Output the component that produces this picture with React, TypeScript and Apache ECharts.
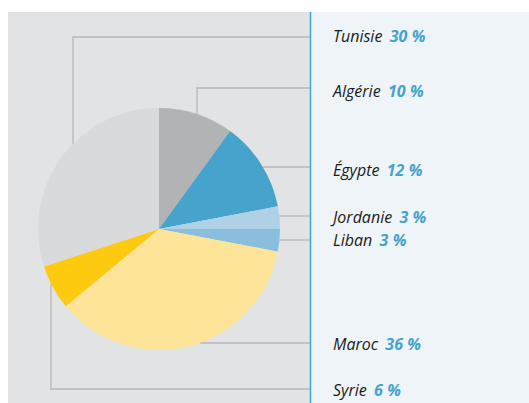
import React, { useEffect, useRef } from "react";
import * as echarts from "echarts";

const countries = ["Algérie", "Égypte", "Jordanie", "Liban", "Maroc", "Syrie", "Tunisie"];
const shares = [10, 12, 3, 3, 36, 6, 30];
const sliceColors = ["#b2b3b5", "#45a3cc", "#aed1e5", "#89bfdd", "#fee498", "#fdca0f", "#d9dadc"];

// label / leader-line layout (pixels)
const CX = 159;
const CY = 229;
const R = 121;
const DIVIDER_X = 310;
const LABEL_X = 333;
// lineY: horizontal leader level; elbowX: vertical drop (optional); textDy: text offset
const leaderLayout: { lineY: number; elbowX?: number; textDy: number }[] = [
  { lineY: 88, elbowX: 197, textDy: 3 },
  { lineY: 167, textDy: 3 },
  { lineY: 216, textDy: 1 },
  { lineY: 240, textDy: 0 },
  { lineY: 343, textDy: 1 },
  { lineY: 389, elbowX: 51, textDy: 1 },
  { lineY: 37, elbowX: 73, textDy: -1 },
];

function leaderPoints(i: number): number[][] {
  const l = leaderLayout[i];
  if (l.elbowX !== undefined) {
    const dx = l.elbowX - CX;
    const h = Math.sqrt(Math.max(R * R - dx * dx, 0));
    const ey = l.lineY < CY ? CY - h : CY + h;
    return [
      [l.elbowX, ey],
      [l.elbowX, l.lineY],
      [DIVIDER_X, l.lineY],
    ];
  }
  const dy = l.lineY - CY;
  const w = Math.sqrt(Math.max(R * R - dy * dy, 0));
  const ex = CX + w;
  return [
    [ex, l.lineY],
    [(ex + DIVIDER_X) / 2, l.lineY],
    [DIVIDER_X, l.lineY],
  ];
}

export default function App() {
  const ref = useRef<HTMLDivElement>(null);
  useEffect(() => {
    if (!ref.current) return;
    const chart = echarts.init(ref.current, null, { renderer: "svg" });
    chart.setOption({
      animation: false,
      backgroundColor: "#ffffff",
      graphic: [
        { type: "rect", z: -10, shape: { x: 8, y: 12, width: 302, height: 400 }, style: { fill: "#e2e3e5" } },
        { type: "rect", z: -10, shape: { x: 311, y: 12, width: 230, height: 400 }, style: { fill: "#eff4f8" } },
        { type: "line", z: -9, shape: { x1: 310.5, y1: 12, x2: 310.5, y2: 403 }, style: { stroke: "#3ea5d2", lineWidth: 1.5 } },
      ],
      series: [
        {
          type: "pie",
          center: [CX, CY],
          radius: R,
          startAngle: 90,
          clockwise: true,
          avoidLabelOverlap: false,
          silent: true,
          itemStyle: { borderWidth: 0 },
          data: countries.map((name, i) => ({
            name,
            value: shares[i],
            itemStyle: { color: sliceColors[i] },
          })),
          label: {
            show: true,
            position: "outside",
            formatter: (p: any) => `{n|${p.name}} {v|${p.value}} {p|%}`,
            rich: {
              n: {
                fontFamily: "Open Sans",
                fontStyle: "italic",
                fontSize: 16,
                color: "#1b1b1b",
              },
              v: {
                fontFamily: "Open Sans",
                fontStyle: "italic",
                fontWeight: "bold",
                fontSize: 16,
                color: "#45a3cc",
                padding: [0, 0, 0, 4],
              },
              p: {
                fontFamily: "Open Sans",
                fontStyle: "italic",
                fontWeight: "bold",
                fontSize: 16,
                color: "#45a3cc",
                padding: [0, 0, 0, 1],
              },
            },
          },
          labelLine: {
            show: true,
            smooth: false,
            lineStyle: { color: "#b6b7b9", width: 1.3 },
          },
          labelLayout: (params: any) => {
            const i = params.dataIndex;
            return {
              x: LABEL_X,
              y: leaderLayout[i].lineY + leaderLayout[i].textDy,
              align: "left",
              verticalAlign: "middle",
              labelLinePoints: leaderPoints(i),
            };
          },
        },
      ],
    });
    return () => chart.dispose();
  }, []);
  return <div ref={ref} style={{ width: 529, height: 403, position: "absolute", left: 0, top: 0 }} />;
}
